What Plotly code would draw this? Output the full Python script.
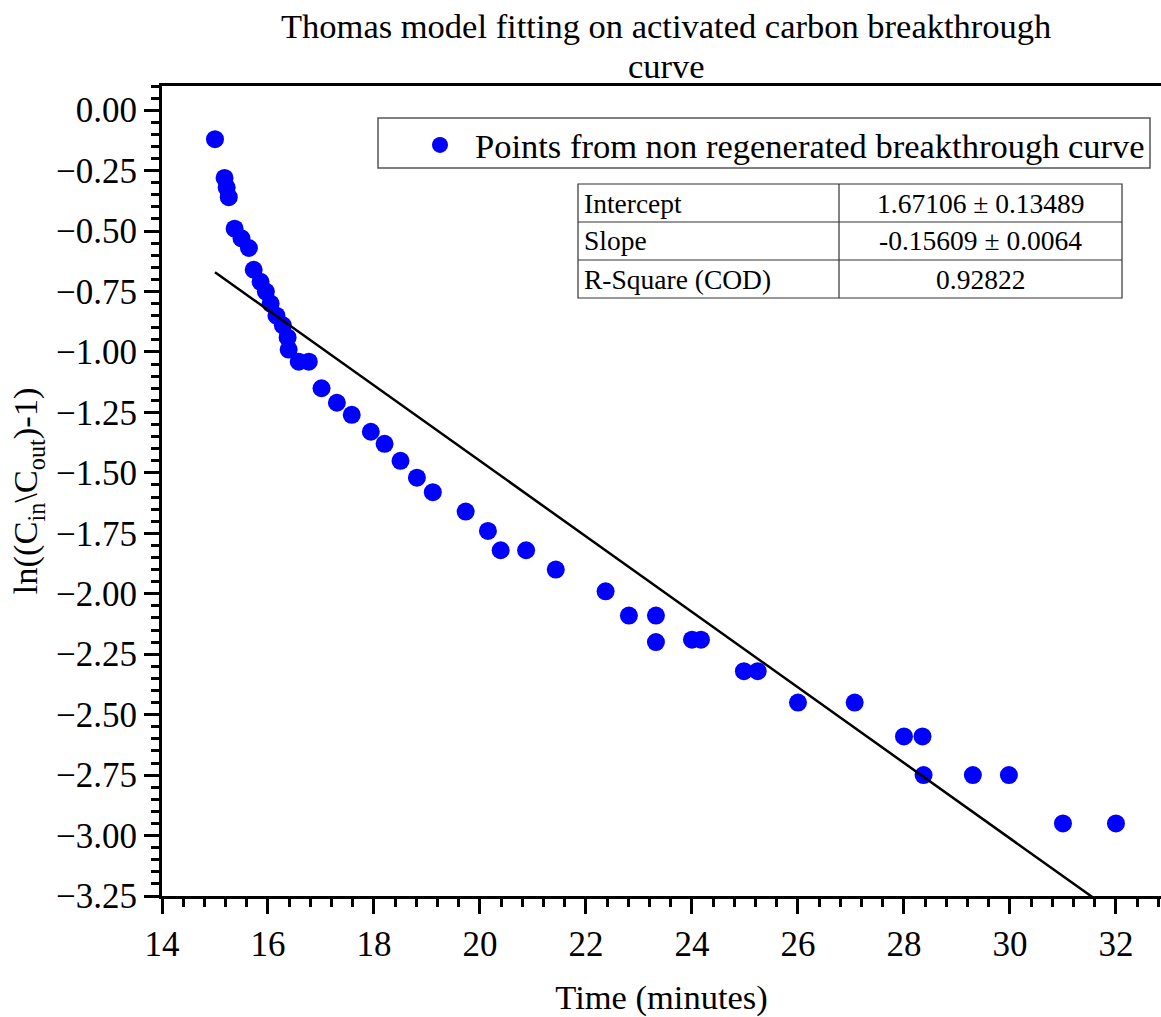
import plotly.graph_objects as go

# ---- data ----
time_min = [15.0, 15.18, 15.22, 15.26, 15.37, 15.5, 15.64, 15.73, 15.86, 15.96,
            16.05, 16.16, 16.28, 16.37, 16.39, 16.58, 16.77, 17.01, 17.3, 17.58,
            17.94, 18.2, 18.5, 18.81, 19.11, 19.73, 20.15, 20.39, 20.87, 21.43,
            22.37, 22.81, 23.32, 23.32, 24.0, 24.17, 24.98, 25.24, 26.0, 27.07,
            28.0, 28.35, 28.37, 29.3, 29.98, 31.0, 32.0]
ln_ratio = [-0.12, -0.28, -0.32, -0.36, -0.49, -0.53, -0.57, -0.66, -0.71, -0.75,
            -0.80, -0.85, -0.89, -0.94, -0.99, -1.04, -1.04, -1.15, -1.21, -1.26,
            -1.33, -1.38, -1.45, -1.52, -1.58, -1.66, -1.74, -1.82, -1.82, -1.90,
            -1.99, -2.09, -2.09, -2.20, -2.19, -2.19, -2.32, -2.32, -2.45, -2.45,
            -2.59, -2.59, -2.75, -2.75, -2.75, -2.95, -2.95]

intercept = 1.67106
slope = -0.15609
fit_x = [15.0, 32.0]
fit_y = [intercept + slope * x for x in fit_x]

table_labels = ["Intercept", "Slope", "R-Square (COD)"]
table_values = ["1.67106 \u00b1 0.13489", "-0.15609 \u00b1 0.0064", "0.92822"]

series_name = "Points from non regenerated breakthrough curve"
title_lines = ["Thomas model fitting on activated carbon breakthrough", "curve"]

# ---- layout geometry (pixels) ----
W, H = 1161, 1017
ML, MR, MT, MB = 162, 0, 86, 121
PW, PH = W - ML - MR, H - MT - MB


def px_x(p):
    return (p - ML) / PW


def px_y(p):
    return (H - MB - p) / PH


FONT = "Liberation Serif, Times New Roman, serif"

fig = go.Figure()
fig.add_trace(go.Scatter(
    x=time_min, y=ln_ratio, mode="markers", name=series_name,
    marker=dict(color="#0000ff", size=18, line=dict(width=0)),
))
fig.add_trace(go.Scatter(
    x=fit_x, y=fit_y, mode="lines", showlegend=False,
    line=dict(color="black", width=2.5),
))

shapes = []
# legend frame
shapes.append(dict(type="rect", xref="paper", yref="paper",
                   x0=px_x(378), x1=px_x(1150), y0=px_y(118), y1=px_y(168),
                   line=dict(color="#555555", width=1.5), fillcolor="white", layer="above"))

# table as shapes + annotations
tx0, tx1, tcol = 578, 1122, 839
ty0, row_h = 184, 38
shapes.append(dict(type="rect", xref="paper", yref="paper",
                   x0=px_x(tx0), x1=px_x(tx1), y0=px_y(ty0), y1=px_y(ty0 + row_h * len(table_labels)),
                   line=dict(color="#333333", width=1.2), fillcolor="white", layer="above"))
for i in range(1, len(table_labels)):
    yy = px_y(ty0 + row_h * i)
    shapes.append(dict(type="line", xref="paper", yref="paper",
                       x0=px_x(tx0), x1=px_x(tx1), y0=yy, y1=yy,
                       line=dict(color="#333333", width=1.2), layer="above"))
shapes.append(dict(type="line", xref="paper", yref="paper",
                   x0=px_x(tcol), x1=px_x(tcol), y0=px_y(ty0), y1=px_y(ty0 + row_h * len(table_labels)),
                   line=dict(color="#333333", width=1.2), layer="above"))

annotations = []
for i, (lab, val) in enumerate(zip(table_labels, table_values)):
    yc = px_y(ty0 + row_h * (i + 0.5))
    annotations.append(dict(xref="paper", yref="paper", x=px_x(tx0 + 4), y=yc,
                            text=lab, showarrow=False, xanchor="left", yanchor="middle",
                            font=dict(family=FONT, size=27.5, color="black")))
    annotations.append(dict(xref="paper", yref="paper", x=px_x((tcol + tx1) / 2), y=yc,
                            text=val, showarrow=False, xanchor="center", yanchor="middle",
                            font=dict(family=FONT, size=27.5, color="black")))

# title as two single-line annotations
for line_text, yc in zip(title_lines, [25.5, 65.5]):
    annotations.append(dict(xref="paper", yref="paper", x=px_x(666), y=px_y(yc),
                            text=line_text, showarrow=False, xanchor="center", yanchor="middle",
                            font=dict(family=FONT, size=34.5, color="black")))

fig.update_layout(
    width=W, height=H,
    margin=dict(l=ML, r=MR, t=MT, b=MB, pad=0),
    paper_bgcolor="white", plot_bgcolor="white",
    font=dict(family=FONT, color="black", size=34),
    showlegend=True,
    legend=dict(x=px_x(1150), y=px_y(116), xanchor="right", yanchor="top",
                bgcolor="rgba(0,0,0,0)", borderwidth=0,
                font=dict(family=FONT, size=34.5, color="black"),
                itemwidth=60, itemsizing="trace"),
    shapes=shapes,
    annotations=annotations,
)

fig.update_xaxes(
    range=[14, 32.85], tick0=14, dtick=2,
    showgrid=False, zeroline=False,
    showline=True, linecolor="black", linewidth=3, mirror=True,
    ticks="outside", ticklen=15, tickwidth=3, tickcolor="black",
    tickfont=dict(family=FONT, size=35),
    minor=dict(dtick=0.4, tick0=14, ticks="outside", ticklen=8, tickwidth=2.5, tickcolor="black", showgrid=False),
    title=dict(text="Time (minutes)", font=dict(family=FONT, size=34.5), standoff=24),
)
fig.update_yaxes(
    range=[-3.25, 0.1], tick0=0, dtick=0.25, tickformat=".2f",
    showgrid=False, zeroline=False,
    showline=True, linecolor="black", linewidth=3, mirror=False,
    ticks="outside", ticklen=15, tickwidth=3, tickcolor="black",
    tickfont=dict(family=FONT, size=35),
    minor=dict(dtick=0.05, tick0=0, ticks="outside", ticklen=8, tickwidth=2.5, tickcolor="black", showgrid=False),
    title=dict(text="ln((C<sub>in</sub>\\C<sub>out</sub>)-1)", font=dict(family=FONT, size=34.5), standoff=8),
)

fig.write_html("out.html")
